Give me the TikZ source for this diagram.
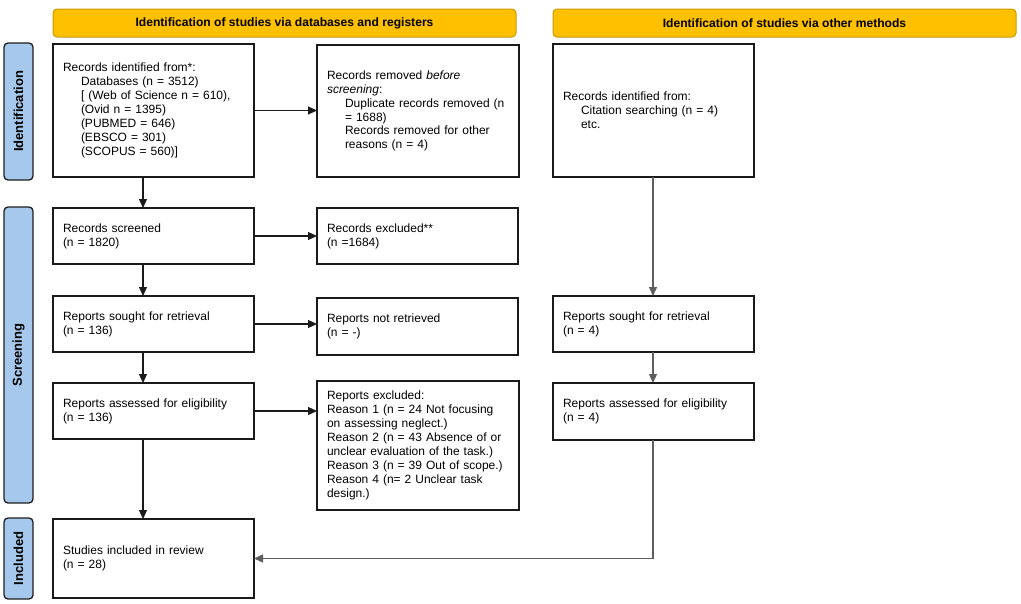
\documentclass[tikz,border=0pt]{standalone}
\usepackage{fontspec}
\setmainfont{Liberation Sans}
\usetikzlibrary{arrows.meta,calc}
\definecolor{hdrfill}{HTML}{FFC000}
\definecolor{hdrdraw}{HTML}{C99A06}
\definecolor{sidefill}{HTML}{A6C8EC}
\definecolor{sidedraw}{HTML}{1E1E1E}
\definecolor{ln}{HTML}{1A1A1A}
\definecolor{gryln}{HTML}{5E5E5E}
\begin{document}
\begin{tikzpicture}[x=1pt,y=-1pt,
  box/.style={draw=ln, line width=1.3pt, fill=white, anchor=north west,
    inner xsep=10pt, inner ysep=0pt, outer sep=0pt, align=left,
    font=\fontsize{12}{13.9}\selectfont},
  hdr/.style={draw=hdrdraw, line width=1pt, fill=hdrfill, rounded corners=4pt,
    anchor=north west, inner sep=0pt, outer sep=0pt,
    font=\bfseries\fontsize{12.1}{14}\selectfont},
  side/.style={draw=sidedraw, line width=1.3pt, fill=sidefill, rounded corners=4pt,
    anchor=north west, inner sep=0pt, outer sep=0pt},
  sidetxt/.style={rotate=90, font=\bfseries\fontsize{13}{15}\selectfont},
  arr/.style={draw=ln, line width=1.1pt, -{Triangle[length=9pt,width=8pt]}},
  garr/.style={draw=gryln, line width=1.3pt, -{Triangle[length=9pt,width=8pt]}},
]
\useasboundingbox (0,0) rectangle (1021,603);

% headers
\node[hdr, minimum width=463pt, minimum height=28pt] (h1) at (53,9)
  {Identification of studies via databases and registers};
\node[hdr, minimum width=463pt, minimum height=28pt] (h2) at (553,9)
  {Identification of studies via other methods};

% side labels
\node[side, minimum width=29pt, minimum height=137pt] (s1) at (4,43) {};
\node[sidetxt] (s1t) at (s1.center) {Identification};
\node[side, minimum width=29pt, minimum height=296pt] (s2) at (4,207) {};
\node[sidetxt] (s2t) at (s2.center) {Screening};
\node[side, minimum width=29pt, minimum height=81pt] (s3) at (4,518) {};
\node[sidetxt] (s3t) at (s3.center) {Included};

% left column
\node[box, text width=181pt, minimum height=133pt] (b1) at (53,44)
  {Records identified from*:\\
   \hspace*{18pt}Databases (n = 3512)\\
   \hspace*{18pt}[ (Web of Science n = 610),\\
   \hspace*{18pt}(Ovid n = 1395)\\
   \hspace*{18pt}(PUBMED = 646)\\
   \hspace*{18pt}(EBSCO = 301)\\
   \hspace*{18pt}(SCOPUS = 560)]};
\node[box, text width=181pt, minimum height=56pt] (scr) at (53,208)
  {Records screened\\(n = 1820)};
\node[box, text width=181pt, minimum height=56pt] (sgt) at (53,296)
  {Reports sought for retrieval\\(n = 136)};
\node[box, text width=181pt, minimum height=56pt] (ass) at (53,383)
  {Reports assessed for eligibility\\(n = 136)};
\node[box, text width=181pt, minimum height=79pt] (inc) at (53,519)
  {Studies included in review\\(n = 28)};

% middle column
\node[box, text width=182pt, minimum height=132pt] (b2) at (317,45)
  {Records removed \textit{before}\\
   \textit{screening}:\\
   \hspace*{18pt}Duplicate records removed (n\\
   \hspace*{18pt}= 1688)\\
   \hspace*{18pt}Records removed for other\\
   \hspace*{18pt}reasons (n = 4)};
\node[box, text width=181pt, minimum height=56pt] (exc) at (317,208)
  {Records excluded**\\(n =1684)};
\node[box, text width=181pt, minimum height=57pt] (nrt) at (317,298)
  {Reports not retrieved\\(n = -)};
\node[box, text width=182pt, minimum height=129pt] (rex) at (317,381)
  {Reports excluded:\\
   Reason 1 (n = 24 Not focusing\\
   on assessing neglect.)\\
   Reason 2 (n = 43 Absence of or\\
   unclear evaluation of the task.)\\
   Reason 3 (n = 39 Out of scope.)\\
   Reason 4 (n= 2 Unclear task\\
   design.)};

% right column
\node[box, text width=181pt, minimum height=133pt] (ob1) at (553,44)
  {Records identified from:\\
   \hspace*{18pt}Citation searching (n = 4)\\
   \hspace*{18pt}etc.};
\node[box, text width=181pt, minimum height=56pt] (osg) at (553,296)
  {Reports sought for retrieval\\(n = 4)};
\node[box, text width=181pt, minimum height=57pt] (oas) at (553,383)
  {Reports assessed for eligibility\\(n = 4)};

% connectors
\coordinate (xl) at (143,0);
\coordinate (xr) at (653,0);
\draw[arr] (b1.south -| xl) -- (scr.north -| xl);
\draw[arr] (scr.south -| xl) -- (sgt.north -| xl);
\draw[arr] (sgt.south -| xl) -- (ass.north -| xl);
\draw[arr] (ass.south -| xl) -- (inc.north -| xl);

\draw[arr] (b1.east) -- (b1.east -| b2.west);
\draw[arr] (scr.east) -- (scr.east -| exc.west);
\draw[arr] (sgt.east) -- (sgt.east -| nrt.west);
\draw[arr] (ass.east) -- (ass.east -| rex.west);

\draw[garr] (ob1.south -| xr) -- (osg.north -| xr);
\draw[garr] (osg.south -| xr) -- (oas.north -| xr);
\draw[garr] (oas.south -| xr) |- (inc.east);
\end{tikzpicture}
\end{document}
